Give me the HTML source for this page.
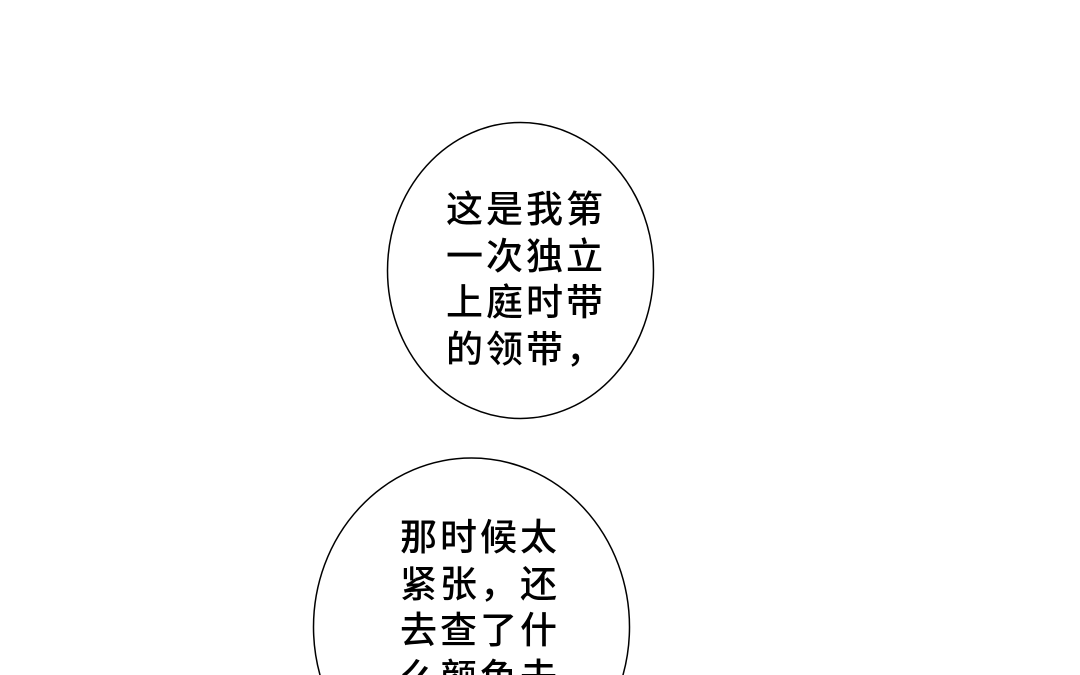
<!DOCTYPE html>
<html><head><meta charset="utf-8"><style>
html,body{margin:0;padding:0;background:#fff;width:1080px;height:675px;overflow:hidden;}
body{position:relative;font-family:"Liberation Sans","Noto Sans CJK SC",sans-serif;}
.t{position:absolute;font-size:37px;font-weight:500;line-height:46.5px;color:#000;letter-spacing:3px;white-space:nowrap;}
</style></head><body>
<svg width="1080" height="675" style="position:absolute;left:0;top:0">
<ellipse cx="520.5" cy="270.5" rx="133" ry="148" fill="#fff" stroke="#000" stroke-width="1.5"/>
<ellipse cx="471.5" cy="627" rx="158" ry="169" fill="#fff" stroke="#000" stroke-width="1.5"/>
</svg>
<div class="t" style="left:446px;top:187px">这是我第<br>一次独立<br>上庭时带<br>的领带，</div>
<div class="t" style="left:400px;top:515px;height:160px;overflow:hidden">那时候太<br>紧张，还<br>去查了什<br>么颜色去</div>
</body></html>
